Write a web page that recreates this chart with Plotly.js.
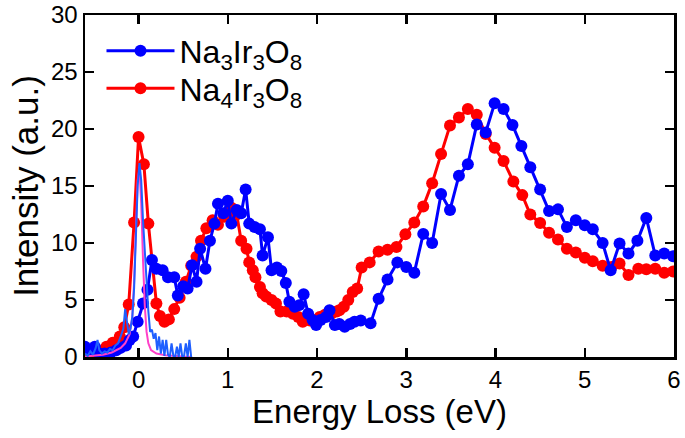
<!DOCTYPE html>
<html>
<head>
<meta charset="utf-8">
<script src="https://cdn.plot.ly/plotly-3.0.1.min.js"></script>
<style>html,body{margin:0;padding:0;background:#fff}#chart{width:685px;height:438px}</style>
</head>
<body>
<div id="chart"></div>
<script>
// Na3Ir3O8 (blue markers)
const naThreeX = [-0.60,-0.55,-0.49,-0.44,-0.38,-0.31,-0.25,-0.20,-0.14,-0.10,-0.06,-0.01,0.05,0.10,0.15,0.20,0.27,0.33,0.40,0.44,0.50,0.55,0.60,0.65,0.69,0.75,0.80,0.85,0.89,0.95,1.00,1.04,1.10,1.15,1.20,1.24,1.30,1.36,1.39,1.45,1.49,1.55,1.60,1.65,1.69,1.75,1.80,1.85,1.90,1.95,1.99,2.04,2.10,2.14,2.20,2.25,2.31,2.37,2.42,2.49,2.60,2.69,2.79,2.90,3.00,3.09,3.19,3.29,3.39,3.49,3.59,3.69,3.79,3.89,3.99,4.09,4.19,4.29,4.39,4.50,4.60,4.70,4.80,4.90,5.00,5.09,5.20,5.29,5.39,5.49,5.59,5.69,5.79,5.89,5.99];
const naThreeY = [0.9,0.6,0.9,0.3,0.3,0.4,0.6,0.8,1.0,1.5,1.8,3.1,4.7,5.9,8.5,7.75,7.6,7.0,7.0,5.4,6.2,6.0,8.05,6.6,9.5,7.75,10.2,11.7,13.45,12.6,13.7,11.7,12.9,12.6,14.7,11.7,11.4,11.2,8.9,10.5,7.6,7.85,7.55,6.5,4.84,4.4,4.55,5.5,3.8,3.24,2.8,3.24,3.5,4.1,2.8,2.9,2.65,2.9,3.1,3.2,2.95,5.1,6.8,8.3,7.9,7.4,10.8,10.0,14.3,12.9,15.9,16.9,20.4,19.7,22.25,21.75,20.35,18.5,16.65,14.7,12.8,12.95,11.4,12.0,11.55,11.2,10.0,7.6,9.95,9.07,10.2,12.2,8.9,9.07,8.84];

// Na4Ir3O8 (red markers)
const naFourX = [-0.60,-0.52,-0.43,-0.36,-0.29,-0.21,-0.16,-0.11,-0.05,0.00,0.06,0.11,0.20,0.24,0.29,0.34,0.40,0.46,0.53,0.59,0.65,0.70,0.76,0.83,0.89,0.96,1.04,1.10,1.15,1.21,1.24,1.28,1.31,1.36,1.39,1.43,1.49,1.54,1.59,1.66,1.73,1.79,1.84,1.92,1.97,2.03,2.09,2.16,2.22,2.25,2.30,2.35,2.40,2.45,2.50,2.59,2.69,2.79,2.89,2.99,3.09,3.19,3.29,3.39,3.49,3.59,3.69,3.79,3.89,3.99,4.09,4.20,4.30,4.39,4.50,4.60,4.70,4.80,4.90,5.00,5.09,5.20,5.30,5.39,5.49,5.60,5.69,5.79,5.89,5.99];
const naFourY = [0.3,0.35,0.5,0.9,1.25,1.8,2.6,4.6,11.8,19.3,16.9,11.7,4.7,3.6,3.1,3.3,4.2,5.2,6.6,8.0,8.8,10.2,11.3,12.0,11.6,12.3,13.1,12.5,10.2,9.5,8.3,7.6,7.0,6.15,5.6,5.3,5.0,4.7,4.0,4.0,3.8,3.5,3.1,3.2,3.2,3.5,3.7,3.8,4.0,4.1,4.4,5.0,5.7,6.0,7.85,8.3,9.25,9.4,9.65,10.76,11.8,13.2,15.25,17.8,20.3,21.0,21.75,21.26,19.57,18.35,17.2,15.4,14.2,12.5,11.75,10.9,10.3,9.5,9.16,8.7,8.4,8.0,7.9,8.2,7.2,7.75,7.7,7.75,7.4,7.5];

// thin noisy blue line (elastic region)
const lineBlueX = [-0.60,-0.57,-0.54,-0.51,-0.48,-0.46,-0.44,-0.41,-0.38,-0.35,-0.32,-0.29,-0.26,-0.23,-0.20,-0.17,-0.15,-0.13,-0.11,-0.09,-0.07,-0.05,-0.03,-0.01,0.01,0.03,0.05,0.07,0.09,0.11,0.13,0.15,0.17,0.19,0.21,0.23,0.25,0.27,0.29,0.31,0.33,0.35,0.37,0.39,0.41,0.43,0.45,0.47,0.49,0.51,0.53,0.55,0.57,0.59];
const lineBlueY = [0.3,0.1,0.5,0.2,0.8,1.5,0.6,0.3,0.5,0.4,0.7,0.6,1.0,1.2,1.8,2.5,4.2,3.0,2.0,2.5,3.5,6.0,10.5,15.0,17.0,15.5,12.0,9.0,7.0,4.0,2.2,2.4,1.6,2.1,0.6,1.8,0.3,1.5,0.1,1.5,0.2,0.0,1.2,0.1,0.0,0.9,0.0,1.2,0.0,0.1,1.2,0.0,1.5,0.0];

// magenta elastic-line profile
const elasticX = [-0.60,-0.50,-0.40,-0.30,-0.25,-0.20,-0.15,-0.10,-0.07,-0.05,-0.03,-0.01,0.01,0.03,0.05,0.07,0.09,0.11,0.14,0.20,0.30,0.40,0.50,0.60];
const elasticY = [0.05,0.1,0.2,0.4,0.6,0.8,1.2,2.0,3.5,6.5,11.0,15.5,16.5,13.5,8.5,4.5,2.2,1.2,0.6,0.3,0.15,0.08,0.04,0.02];

const xTicks = [0,1,2,3,4,5,6];
const yTicks = [0,5,10,15,20,25,30];
const nameThree = 'Na<sub>3</sub>Ir<sub>3</sub>O<sub>8</sub>';
const nameFour = 'Na<sub>4</sub>Ir<sub>3</sub>O<sub>8</sub>';

const FONT = 'Liberation Sans, Arial, sans-serif';

const traces = [
  {x: naFourX, y: naFourY, name: nameFour, mode: 'lines+markers', legend: 'legend2',
   line: {color: '#ff0000', width: 3}, marker: {color: '#ff0000', size: 12}},
  {x: naThreeX, y: naThreeY, name: nameThree, mode: 'lines+markers', legend: 'legend',
   line: {color: '#0000ff', width: 3}, marker: {color: '#0000ff', size: 12}},
  {x: elasticX, y: elasticY, mode: 'lines', showlegend: false, line: {color: '#ff40c8', width: 2}},
  {x: lineBlueX, y: lineBlueY, mode: 'lines', showlegend: false, line: {color: '#1f5fff', width: 2}}
];

const axisCommon = {
  showline: true, linecolor: '#000', linewidth: 2.5, mirror: 'ticks',
  ticks: 'inside', ticklen: 9, tickwidth: 2.5, tickcolor: '#000',
  showgrid: false, zeroline: false,
  tickfont: {family: FONT, size: 24, color: '#000'}
};

const legendCommon = {xanchor: 'left', yanchor: 'middle', bgcolor: 'rgba(0,0,0,0)',
  itemwidth: 68, font: {size: 32, family: FONT}};

const layout = {
  width: 685, height: 438,
  margin: {l: 85, r: 11, t: 15, b: 81},
  paper_bgcolor: '#fff', plot_bgcolor: '#fff',
  font: {family: FONT, color: '#000'},
  xaxis: Object.assign({}, axisCommon, {
    range: [-0.6, 6.0], tickvals: xTicks, ticktext: xTicks.map(String),
    title: {text: 'Energy Loss (eV)', font: {size: 33, family: FONT}, standoff: 3}
  }),
  yaxis: Object.assign({}, axisCommon, {
    range: [0, 30], tickvals: yTicks, ticktext: yTicks.map(String),
    title: {text: 'Intensity (a.u.)', font: {size: 35, family: FONT}, standoff: 2}
  }),
  legend: Object.assign({}, legendCommon, {x: 0.028, y: 0.895}),
  legend2: Object.assign({}, legendCommon, {x: 0.028, y: 0.785}),
  showlegend: true
};

Plotly.newPlot('chart', traces, layout, {displayModeBar: false, staticPlot: true});
</script>
</body>
</html>
